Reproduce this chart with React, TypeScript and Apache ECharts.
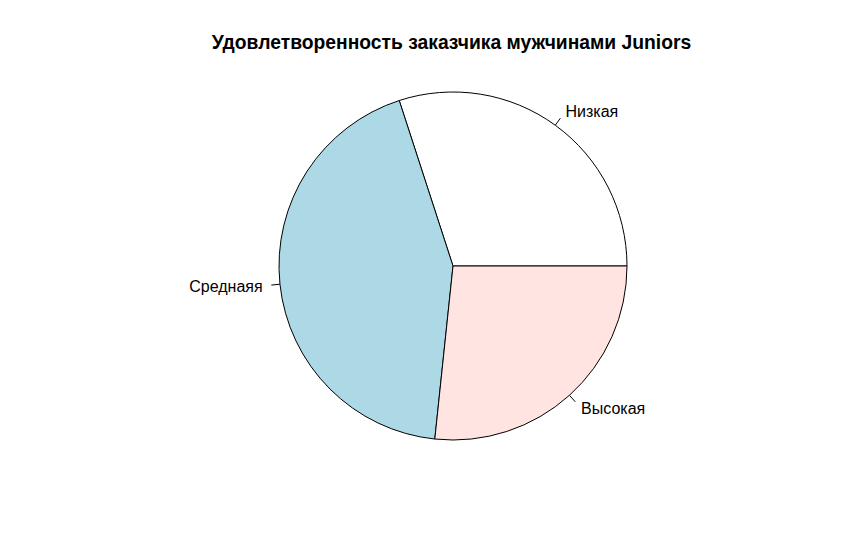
import React, { useEffect, useRef } from "react";
import * as echarts from "echarts";

const titleText = "Удовлетворенность заказчика мужчинами Juniors";
const categories = ["Низкая", "Среднаяя", "Высокая"];
const values = [9, 13, 8];
const colors = ["#FFFFFF", "#ADD8E6", "#FFE4E1"];

export default function App() {
  const ref = useRef<HTMLDivElement>(null);
  useEffect(() => {
    if (!ref.current) return;
    const chart = echarts.init(ref.current, null, { renderer: "svg" });
    const R = 174;
    chart.setOption({
      animation: false,
      backgroundColor: "#FFFFFF",
      graphic: [
        {
          type: "text",
          x: 451.5,
          y: 42,
          style: {
            text: titleText,
            align: "center",
            verticalAlign: "middle",
            font: "bold 19.3px 'Liberation Sans', Arial, sans-serif",
            fill: "#000000",
          },
        },
      ],
      series: [
        {
          type: "pie",
          center: [453, 266],
          radius: [0, R],
          startAngle: 0,
          clockwise: false,
          avoidLabelOverlap: false,
          data: categories.map((c, i) => ({
            name: c,
            value: values[i],
            itemStyle: { color: colors[i] },
          })),
          itemStyle: { borderColor: "#000000", borderWidth: 1 },
          emphasis: { disabled: true },
          label: {
            show: true,
            position: "outside",
            formatter: "{b}",
            color: "#000000",
            fontSize: 16,
            fontFamily: "'Liberation Sans', Arial, sans-serif",
            distanceToLabelLine: 0,
          },
          labelLine: {
            show: true,
            length: R * 0.05,
            length2: 0,
            smooth: false,
            lineStyle: { color: "#000000", width: 1 },
          },
          labelLayout: (params: any) => {
            const pts = params.labelLinePoints;
            if (!pts) return {};
            const p1 = pts[0];
            const p2 = pts[1];
            const x = p2[0] + (p2[0] - p1[0]);
            const y = p2[1] + (p2[1] - p1[1]);
            const left = p2[0] < p1[0];
            return {
              x,
              y,
              align: left ? "right" : "left",
              verticalAlign: "middle",
              labelLinePoints: [
                [p1[0], p1[1]],
                [p2[0], p2[1]],
                [p2[0], p2[1]],
              ],
            };
          },
        },
      ],
    });
    return () => chart.dispose();
  }, []);
  return (
    <div
      ref={ref}
      style={{ position: "absolute", left: 0, top: 0, width: 866, height: 553 }}
    />
  );
}
